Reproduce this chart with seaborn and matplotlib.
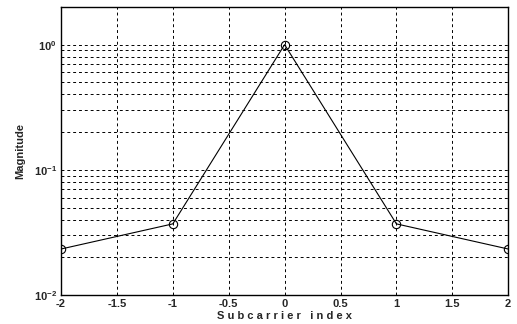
import numpy as np
import pandas as pd
import matplotlib
matplotlib.use("Agg")
import matplotlib.pyplot as plt
import seaborn as sns
from matplotlib.ticker import LogLocator, NullFormatter

# values
subcarrier = [-2, -1, 0, 1, 2]
magnitude = [0.0233, 0.037, 1.0, 0.037, 0.0233]
x_ticks = [-2, -1.5, -1, -0.5, 0, 0.5, 1, 1.5, 2]
x_tick_labels = ["-2", "-1.5", "-1", "-0.5", "0", "0.5", "1", "1.5", "2"]

sns.set_style("white")
plt.rcParams['font.family'] = ['Liberation Sans', 'DejaVu Sans']
plt.rcParams['mathtext.fontset'] = 'custom'
plt.rcParams['mathtext.rm'] = 'Liberation Sans:bold'

df = pd.DataFrame({"Subcarrier index": subcarrier, "Magnitude": magnitude})

fig = plt.figure(figsize=(5.17, 3.24), dpi=100)
ax = fig.add_axes([0.118, 0.0895, 0.865, 0.889])

sns.lineplot(data=df, x="Subcarrier index", y="Magnitude", ax=ax,
             color="black", linewidth=0.8, marker="o", markersize=6,
             markerfacecolor="none", markeredgecolor="black", markeredgewidth=0.8)

ax.set_yscale("log")
ax.set_xlim(-2, 2)
ax.set_ylim(0.01, 2.0)
ax.set_xticks(x_ticks)
ax.set_xticklabels(x_tick_labels, fontsize=8, fontweight="bold")
ax.yaxis.set_major_locator(LogLocator(base=10, numticks=10))
ax.yaxis.set_minor_locator(LogLocator(base=10, subs=np.arange(2, 10), numticks=20))
ax.yaxis.set_minor_formatter(NullFormatter())
for lab in ax.get_yticklabels():
    lab.set_fontsize(8)
    lab.set_fontweight("bold")

ax.grid(True, which="major", axis="both", color="black", linestyle=(0, (3, 3)), linewidth=0.7)
ax.grid(True, which="minor", axis="y", color="black", linestyle=(0, (3, 3)), linewidth=0.7)
ax.tick_params(which="both", direction="in", length=3, width=0.8, pad=3)
ax.tick_params(which="minor", length=2)
for s in ax.spines.values():
    s.set_color("black")
    s.set_linewidth(1.0)

ax.set_xlabel("S u b c a r r i e r   i n d e x", fontsize=8, fontweight="bold", labelpad=1)
ax.set_ylabel("Magnitude", fontsize=8, fontweight="bold", labelpad=6)

fig.savefig("out.png", dpi=100)
